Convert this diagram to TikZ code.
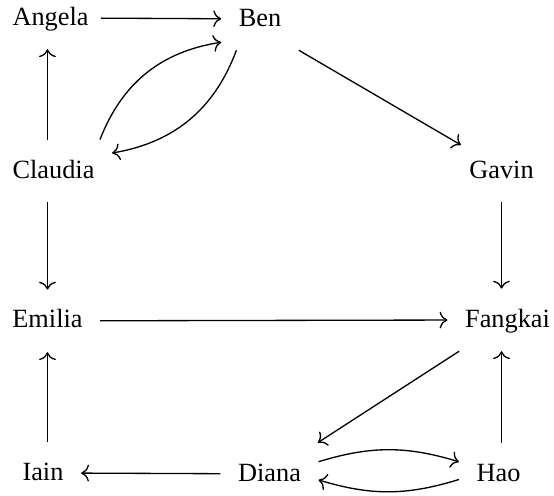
\documentclass[tikz,border=0pt]{standalone}
\usepackage{fontspec}
\setmainfont{Liberation Serif}
\usepackage{tikz}
\usetikzlibrary{arrows.meta}
\tikzset{
  person/.style={
    anchor=base,
    inner xsep=6.5pt, inner ysep=7.8pt,
    text height=6.6pt, text depth=1.2pt
  },
  link/.style={-{Computer Modern Rightarrow[length=3pt,width=6.4pt]}, line width=0.5pt}
}

\begin{document}
\begin{tikzpicture}
    \useasboundingbox (0,0) rectangle (7.4,6.612);
  % People
  \node[person] (angela)  at (0.675,6.278) {Angela};
  \node[person] (ben)     at (3.473,6.264) {Ben};
  \node[person] (claudia) at (0.715,4.234) {Claudia};
  \node[person] (gavin)   at (6.699,4.234) {Gavin};
  \node[person] (emilia)  at (0.634,2.231) {Emilia};
  \node[person] (fangkai) at (6.779,2.244) {Fangkai};
  \node[person] (iain)    at (0.574,0.200) {Iain};
  \node[person] (diana)   at (3.600,0.187) {Diana};
  \node[person] (hao)     at (6.659,0.187) {Hao};

  % Top row and the pair between Claudia and Ben
  \draw[link, shorten <=-2pt] (angela) -- (ben);
  \draw[link] (claudia.north -| emilia) -- (angela.south -| emilia);
  \draw[link] (claudia.34) to[bend left=30] (ben.211);
  \draw[link] (ben.233) to[bend left=30] (claudia.17);
  \draw[link, shorten >=-4pt] (ben.south east) -- (gavin.north west);

  % Middle
  \draw[link] (gavin.south) -- (gavin |- fangkai.north);
  \draw[link] (claudia.south -| emilia) -- (emilia.north);
  \draw[link] (emilia) -- (fangkai);
  \draw[link] (fangkai) -- (diana);

  % Bottom row
  \draw[link] (diana.14) to[bend left=17] (hao.163);
  \draw[link] (hao.188) to[bend left=17] (diana.353);
  \draw[link] (hao.north -| gavin) -- (gavin |- fangkai.south);
  \draw[link] (diana) -- (iain);
  \draw[link] (iain.north -| emilia) -- (emilia.south);

\end{tikzpicture}
\end{document}
